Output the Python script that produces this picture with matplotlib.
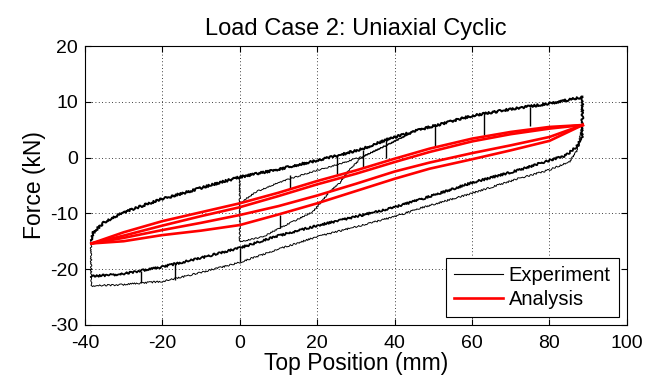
import matplotlib
matplotlib.use("Agg")
import matplotlib.pyplot as plt
from matplotlib.lines import Line2D

# ---- Experiment (black) : branches ----
# outer loading branch
exp_up_x = [-38.4, -38.0, -36.6, -34.8, -31.4, -27.1, -20.0, -14.2, -7.3, 0.0, 10.0, 20.0, 25.0,
            31.8, 37.9, 46.5, 60.0, 70.0, 80.0, 88.3, 88.5]
exp_up_y = [-14.8, -13.6, -12.6, -11.5, -10.3, -9.1, -7.4, -6.3, -4.9, -3.5, -2.1, -0.5, 0.3,
            1.6, 3.2, 5.0, 7.5, 8.7, 9.7, 10.8, 10.8]
# first unloading branch (from the right-hand drop)
exp_lo1_x = [88.5, 88.5, 88.4, 86.9, 84.3, 80.0, 72.3, 60.0, 49.0, 40.0, 30.0, 20.0, 10.0, 0.0,
             -10.0, -20.0, -30.5, -38.4]
exp_lo1_y = [10.8, 5.8, 3.7, 1.9, 0.4, -0.5, -2.2, -4.5, -7.0, -8.9, -10.6, -12.2, -14.0, -16.2,
             -18.0, -19.6, -20.9, -21.3]
# second unloading branch (lowest)
exp_lo2_x = [88.5, 87.3, 85.2, 80.0, 72.3, 60.0, 46.5, 40.0, 30.0, 20.0, 10.0, 0.0, -10.0,
             -16.6, -20.0, -25.4, -30.5, -38.4, -38.4]
exp_lo2_y = [5.8, 1.4, -0.7, -2.2, -3.7, -6.4, -9.1, -10.6, -12.4, -14.2, -16.4, -18.8, -20.6,
             -21.7, -22.2, -22.5, -22.8, -23.0, -14.8]
# inner reloading branches starting at x = 0
exp_in1_x = [0.0, 0.0, 6.0, 10.1, 14.6, 18.9, 21.5, 23.2, 25.8, 28.5, 31.8, 37.9, 44.0]
exp_in1_y = [-3.5, -15.1, -14.2, -12.7, -11.2, -9.7, -7.6, -6.1, -4.6, -2.0, 0.2, 2.2, 4.3]
exp_in2_x = [0.4, 4.3, 8.6, 12.9, 18.5, 25.0, 31.8, 37.9, 44.0]
exp_in2_y = [-8.0, -6.1, -4.9, -3.8, -2.6, -1.3, 0.2, 2.2, 4.3]
# short vertical relaxation drops: x, top, bottom
drop_x = [-25.4, -16.6, 0.0, 10.3, 12.9, 25.1, 31.8, 37.9, 50.5, 63.0, 75.1]
drop_top = [-20.4, -18.9, -16.2, -10.3, -3.1, 0.2, 1.4, 3.5, 6.1, 8.0, 9.1]
drop_bot = [-22.5, -21.9, -18.8, -12.7, -5.6, -2.9, -1.9, -0.1, 1.9, 4.05, 5.7]

# ---- Analysis (red) ----
ana_x = [-38.3, -30.0, -20.0, -10.0, 0.0, 10.0, 20.0, 30.0, 40.0, 49.0, 60.0, 70.0, 80.0, 88.6]
ana_up1_y = [-15.4, -13.4, -11.4, -9.8, -8.2, -6.3, -4.2, -2.3, -0.2, 1.6, 3.4, 4.6, 5.5, 5.84]
ana_up2_y = [-15.4, -14.0, -12.2, -10.5, -8.9, -6.9, -4.8, -2.9, -0.8, 1.0, 2.9, 4.2, 5.2, 5.84]
ana_lo1_y = [-15.4, -14.4, -13.0, -11.7, -10.3, -8.7, -6.8, -4.7, -2.5, -0.9, 0.8, 2.2, 3.7, 5.84]
ana_lo2_y = [-15.4, -15.0, -13.9, -13.1, -12.1, -10.2, -8.2, -6.0, -3.8, -2.0, -0.3, 1.3, 3.0, 5.84]

xticks = [-40, -20, 0, 20, 40, 60, 80, 100]
yticks = [-30, -20, -10, 0, 10, 20]

plt.rcParams['font.family'] = ['Liberation Sans', 'DejaVu Sans']
plt.rcParams['axes.unicode_minus'] = False

fig = plt.figure(figsize=(6.53, 3.84), dpi=100)
ax = fig.add_axes([0.130, 0.154, 0.830, 0.726])


def noisy_line(x, y, lw, amp):
    # the test signal is noisy: draw it with a wobbling stroke
    ln, = ax.plot(x, y, color='k', lw=lw)
    ln.set_sketch_params(amp, 2.0, 3.0)
    return ln


noisy_line(exp_up_x, exp_up_y, 1.4, 1.1)
noisy_line(exp_up_x, exp_up_y, 0.7, 0.8)
noisy_line(exp_lo1_x, exp_lo1_y, 1.3, 1.0)
noisy_line(exp_lo2_x, exp_lo2_y, 0.7, 0.8)
noisy_line(exp_in1_x, exp_in1_y, 0.7, 0.6)
noisy_line(exp_in2_x, exp_in2_y, 0.7, 0.6)
ax.vlines(drop_x, drop_bot, drop_top, color='k', lw=1.0)

for yy in [ana_up1_y, ana_up2_y, ana_lo1_y, ana_lo2_y]:
    ax.plot(ana_x, yy, color='red', lw=1.9)

ax.set_xlim(-40, 100)
ax.set_ylim(-30, 20)
ax.set_xticks(xticks)
ax.set_yticks(yticks)
ax.tick_params(direction='in', top=True, right=True, labelsize=14, length=4, width=0.8)
ax.tick_params(axis='x', pad=7)
ax.tick_params(axis='y', pad=5)
ax.grid(True, color='k', linestyle=(0, (1, 3)), linewidth=0.6)
for s in ax.spines.values():
    s.set_linewidth(0.8)

ax.set_title('Load Case 2: Uniaxial Cyclic', fontsize=17, pad=8)
ax.set_xlabel('Top Position (mm)', fontsize=16.5, labelpad=0)
ax.set_ylabel('Force (kN)', fontsize=16.5, labelpad=3)

handles = [Line2D([], [], color='k', lw=0.8), Line2D([], [], color='red', lw=1.9)]
leg = ax.legend(handles, ['Experiment', 'Analysis'], loc='lower right', fontsize=14.5,
                fancybox=False, framealpha=1, edgecolor='k', handlelength=2.4,
                borderaxespad=0.4, borderpad=0.4, labelspacing=0.25, handletextpad=0.3)
leg.get_frame().set_linewidth(0.8)

fig.savefig('out.png', dpi=100)
